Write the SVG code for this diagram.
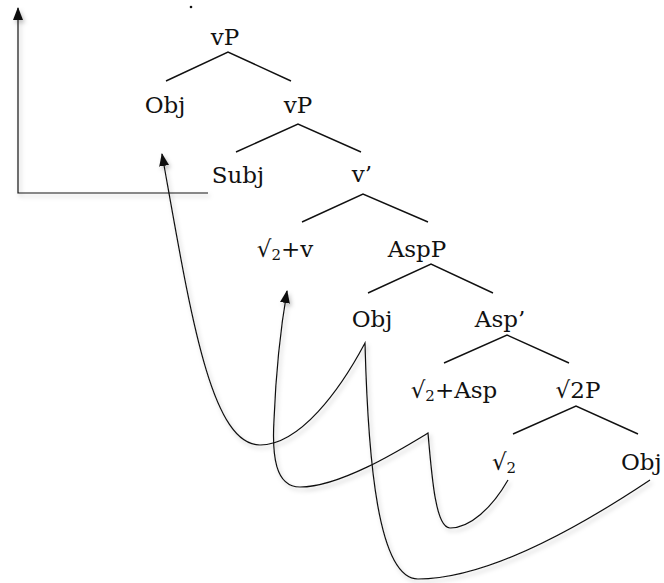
<svg xmlns="http://www.w3.org/2000/svg" width="664" height="583" viewBox="0 0 664 583">
<style>
.lbl{font-family:"DejaVu Serif","Liberation Serif",serif;font-size:23px;fill:#111;text-anchor:middle}
.sub{font-size:15px}
.br{stroke:#111;stroke-width:1.4;fill:none}
.mv{stroke:#111;stroke-width:1.2;fill:none}
</style>
<defs>
<marker id="ah" markerUnits="userSpaceOnUse" markerWidth="13" markerHeight="13" viewBox="0 0 13 13" refX="12" refY="6.5" orient="auto">
<path d="M0,1.5 L13,6.5 L0,11.5 Z" fill="#111"/>
</marker>
<filter id="sh" x="-10%" y="-10%" width="130%" height="130%">
<feDropShadow dx="2" dy="3" stdDeviation="2" flood-color="#000" flood-opacity="0.25"/>
</filter>
</defs>
<rect width="664" height="583" fill="#fff"/>
<circle cx="191" cy="7" r="1.3" fill="#111"/>
<g id="branches">
<path class="br" d="M166,81 L228,52 L291,81"/>
<path class="br" d="M236,152 L298,124 L361,152"/>
<path class="br" d="M302,222 L363,194 L428,222"/>
<path class="br" d="M368,293 L431,264 L493,293"/>
<path class="br" d="M444,363 L507,335 L569,363"/>
<path class="br" d="M513,434 L576,406 L638,434"/>
</g>
<g id="n-vP1"><text class="lbl" x="225" y="45">vP</text></g>
<g id="n-Obj1"><text class="lbl" x="165" y="113">Obj</text></g>
<g id="n-vP2"><text class="lbl" x="298" y="113">vP</text></g>
<g id="n-Subj"><text class="lbl" x="238" y="183">Subj</text></g>
<g id="n-vbar"><text class="lbl" x="362" y="182">v’</text></g>
<g id="n-root-v"><text class="lbl" x="285" y="257">√<tspan class="sub" dy="3">2</tspan><tspan dy="-3">+v</tspan></text></g>
<g id="n-AspP"><text class="lbl" x="417" y="257">AspP</text></g>
<g id="n-Obj2"><text class="lbl" x="372" y="327">Obj</text></g>
<g id="n-Aspbar"><text class="lbl" x="500" y="327">Asp’</text></g>
<g id="n-root-Asp"><text class="lbl" x="454" y="398">√<tspan class="sub" dy="3">2</tspan><tspan dy="-3">+Asp</tspan></text></g>
<g id="n-rootP"><text class="lbl" x="578" y="398">√2P</text></g>
<g id="n-root"><text class="lbl" x="504" y="470">√<tspan class="sub" dy="3">2</tspan></text></g>
<g id="n-Obj3"><text class="lbl" x="621" y="470" style="text-anchor:start">Obj</text></g>
<g id="connectors" filter="url(#sh)">
<path class="mv" d="M208,193 L18,193 L18,8" marker-end="url(#ah)"/>
<path class="mv" d="M650,480 C560,540 480,579 418,579 C378,579 368,460 365,343 C340,390 300,445 260,445 C210,445 190,310 162,154" marker-end="url(#ah)"/>
<path class="mv" d="M508,480 C492,508 470,528 450,528 C436,528 432,480 428,433 C400,450 340,487 300,487 C275,487 272,455 274,420 C276,370 282,320 287,291" marker-end="url(#ah)"/>
</g>
</svg>
